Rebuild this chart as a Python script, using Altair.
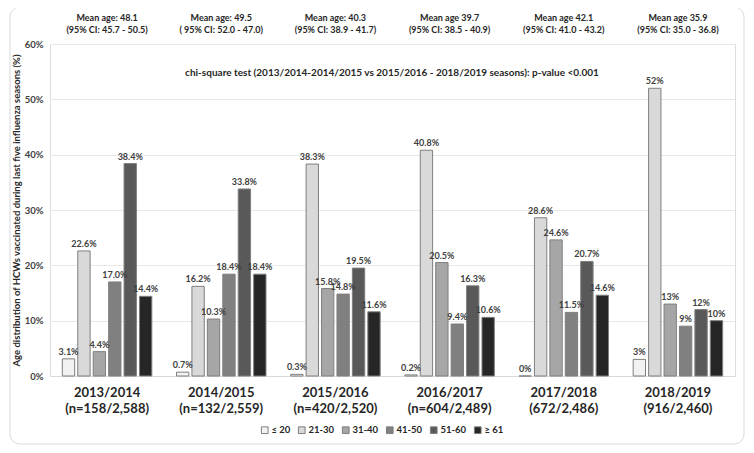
import altair as alt
import pandas as pd

seasons = ["2013/2014|(n=158/2,588)", "2014/2015|(n=132/2,559)", "2015/2016|(n=420/2,520)",
           "2016/2017|(n=604/2,489)", "2017/2018|(672/2,486)", "2018/2019|(916/2,460)"]
age_groups = ["≤ 20", "21-30", "31-40", "41-50", "51-60", "≥ 61"]

v_le20 = [3.1, 0.7, 0.3, 0.2, 0.0, 3.0]
v_21_30 = [22.6, 16.2, 38.3, 40.8, 28.6, 52.0]
v_31_40 = [4.4, 10.3, 15.8, 20.5, 24.6, 13.0]
v_41_50 = [17.0, 18.4, 14.8, 9.4, 11.5, 9.0]
v_51_60 = [38.4, 33.8, 19.5, 16.3, 20.7, 12.0]
v_ge61 = [14.4, 18.4, 11.6, 10.6, 14.6, 10.0]

lab_le20 = ["3.1%", "0.7%", "0.3%", "0.2%", "0%", "3%"]
lab_21_30 = ["22.6%", "16.2%", "38.3%", "40.8%", "28.6%", "52%"]
lab_31_40 = ["4.4%", "10.3%", "15.8%", "20.5%", "24.6%", "13%"]
lab_41_50 = ["17.0%", "18.4%", "14.8%", "9.4%", "11.5%", "9%"]
lab_51_60 = ["38.4%", "33.8%", "19.5%", "16.3%", "20.7%", "12%"]
lab_ge61 = ["14.4%", "18.4%", "11.6%", "10.6%", "14.6%", "10%"]

mean_line1 = ["Mean age: 48.1", "Mean age: 49.5", "Mean age: 40.3",
              "Mean age 39.7", "Mean age 42.1", "Mean age 35.9"]
mean_line2 = ["(95% CI: 45.7 - 50.5)", "( 95% CI: 52.0 - 47.0)", "(95% CI: 38.9 - 41.7)",
              "(95% CI: 38.5 - 40.9)", "(95% CI:  41.0 - 43.2)", "(95% CI: 35.0 - 36.8)"]

chi_text = "chi-square test (2013/2014-2014/2015 vs 2015/2016 - 2018/2019 seasons): p-value <0.001"
y_title = "Age distribution of HCWs vaccinated during last five influenza seasons (%)"

colors = ["#f2f2f2", "#d9d9d9", "#a6a6a6", "#808080", "#595959", "#262626"]

FONT = "Lato"

values = [v_le20, v_21_30, v_31_40, v_41_50, v_51_60, v_ge61]
labels = [lab_le20, lab_21_30, lab_31_40, lab_41_50, lab_51_60, lab_ge61]
rows = []
for g, vals, labs in zip(age_groups, values, labels):
    for s, v, l in zip(seasons, vals, labs):
        rows.append({"season": s, "age": g, "value": v, "label": l})
df = pd.DataFrame(rows)

mean_df = pd.DataFrame({"season": seasons, "l1": mean_line1, "l2": mean_line2})

x_enc = alt.X("season:N", sort=seasons,
              scale=alt.Scale(paddingInner=0, paddingOuter=0),
              axis=alt.Axis(title=None, labelExpr="split(datum.label, '|')",
                            labelFontSize=13, labelFontWeight="bold", labelColor="#262626",
                            labelLineHeight=16, labelPadding=10, labelAngle=0,
                            ticks=False, domainColor="#d9d9d9", labelFont=FONT))
xoff_enc = alt.XOffset("age:N", sort=age_groups,
                       scale=alt.Scale(paddingInner=0.2, paddingOuter=0.8))
y_enc = alt.Y("value:Q", scale=alt.Scale(domain=[0, 60]),
              axis=alt.Axis(title=y_title, values=[0, 10, 20, 30, 40, 50, 60],
                            labelExpr="datum.value + '%'", labelFontSize=9.5,
                            labelFontWeight="bold", labelColor="#404040", labelPadding=7,
                            ticks=False, domain=False, gridColor="#e8e8e8",
                            titleFontSize=9.5, titleFontWeight="bold", titleColor="#262626",
                            titlePadding=3, labelFont=FONT, titleFont=FONT))

base = alt.Chart(df)

bars = base.mark_bar(stroke="#7f7f7f", strokeWidth=1).encode(
    x=x_enc, xOffset=xoff_enc, y=y_enc,
    color=alt.Color("age:N", sort=age_groups,
                    scale=alt.Scale(domain=age_groups, range=colors),
                    legend=alt.Legend(title=None, orient="none", direction="horizontal",
                                      legendX=210, legendY=381, symbolType="square",
                                      symbolSize=45, symbolStrokeColor="#7f7f7f",
                                      symbolStrokeWidth=1, labelFontSize=9.5,
                                      labelFontWeight="bold", labelColor="#262626",
                                      columnPadding=5, labelOffset=2, labelFont=FONT)),
)

texts = base.mark_text(dy=-7, fontSize=9, fontWeight="bold", color="#404040", font=FONT).encode(
    x=alt.X("season:N", sort=seasons), xOffset=alt.XOffset("age:N", sort=age_groups),
    y="value:Q", text="label:N")

mean1 = alt.Chart(mean_df).mark_text(fontSize=9, fontWeight="bold", color="#262626", font=FONT).encode(
    x=alt.X("season:N", sort=seasons), y=alt.value(-26), text="l1:N")
mean2 = alt.Chart(mean_df).mark_text(fontSize=9, fontWeight="bold", color="#262626", font=FONT).encode(
    x=alt.X("season:N", sort=seasons), y=alt.value(-14), text="l2:N")

chi = alt.Chart(pd.DataFrame({"t": [chi_text]})).mark_text(
    fontSize=10, fontWeight="bold", color="#262626", font=FONT).encode(
    x=alt.value(342), y=alt.value(29), text="t:N")

frame = alt.Chart(pd.DataFrame({"t": [0]})).mark_rect(
    fill=None, stroke="#d9d9d9", strokeWidth=1, cornerRadius=10, clip=False).encode(
    x=alt.value(-40), x2=alt.value(694), y=alt.value(-37), y2=alt.value(400))

chart = alt.layer(frame, bars, texts, mean1, mean2, chi).properties(
    width=685, height=332,
    autosize=alt.AutoSizeParams(type="none"),
    padding={"left": 42, "top": 36, "right": 11, "bottom": 69},
).configure_view(stroke=None).configure(background="white")

chart.save("out.html", embed_options={"renderer": "svg", "actions": False})
